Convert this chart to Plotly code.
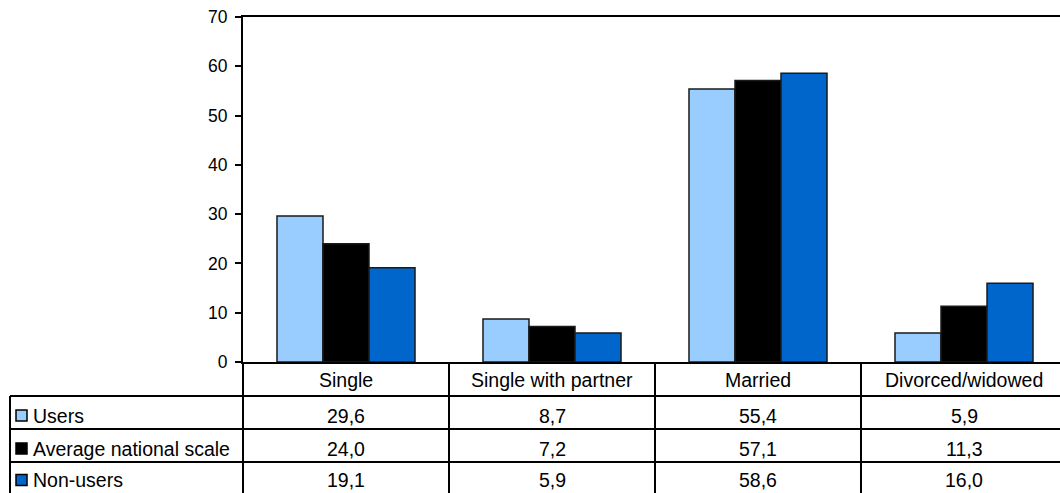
import plotly.graph_objects as go

# Marital status by group (%)
categories = ["Single", "Single with partner", "Married", "Divorced/widowed"]
series_names = ["Users", "Average national scale", "Non-users"]
users = [29.6, 8.7, 55.4, 5.9]
average_national = [24.0, 7.2, 57.1, 11.3]
non_users = [19.1, 5.9, 58.6, 16.0]
y_ticks = [0, 10, 20, 30, 40, 50, 60, 70]

series_values = [users, average_national, non_users]
series_colors = ["#99CCFF", "#000000", "#0066CC"]

W, H = 1060, 493
M_L, M_R, M_T, M_B = 243, 0, 17, 131
PW, PH = W - M_L - M_R, H - M_T - M_B
FONT = "Liberation Sans, Arial, sans-serif"


def px_x(px):
    return (px - M_L) / PW


def px_y(py):
    return (H - M_B - py) / PH


fig = go.Figure()
for name, vals, col in zip(series_names, series_values, series_colors):
    fig.add_trace(go.Bar(
        x=list(range(len(categories))), y=vals, name=name,
        marker=dict(color=col, line=dict(color="#1a1a1a", width=1.5)),
        showlegend=False,
    ))

shapes = []
annotations = []
LINE = dict(color="black", width=2)

# data table rows (header row, then one row per series)
row_edges = [362, 396, 429, 462, 495]
left_edge = 10

# horizontal rules of the table
for ry in row_edges[1:4]:
    shapes.append(dict(type="line", xref="paper", yref="paper",
                       x0=px_x(left_edge), x1=1, y0=px_y(ry), y1=px_y(ry), line=LINE))
# vertical rules: outer left column and the column boundaries
shapes.append(dict(type="line", xref="paper", yref="paper",
                   x0=px_x(left_edge), x1=px_x(left_edge),
                   y0=px_y(row_edges[1]), y1=px_y(row_edges[-1] + 5), line=LINE))
shapes.append(dict(type="line", xref="paper", yref="paper",
                   x0=0, x1=0, y0=0, y1=px_y(row_edges[-1] + 5), line=LINE))
for i in range(len(categories) - 1):
    shapes.append(dict(type="line", xref="x", yref="paper",
                       x0=i + 0.5, x1=i + 0.5, y0=0, y1=px_y(row_edges[-1] + 5), line=LINE))

TXT = dict(family=FONT, size=19.5, color="black")
# header row: category names
for i, c in enumerate(categories):
    annotations.append(dict(x=i, y=px_y((row_edges[0] + row_edges[1]) / 2 + 1),
                            xref="x", yref="paper", text=c, showarrow=False,
                            xanchor="center", yanchor="middle", font=TXT))

# series rows: legend key, name, and values
for r, (name, vals, col) in enumerate(zip(series_names, series_values, series_colors)):
    top, bot = row_edges[r + 1], row_edges[r + 2]
    cy = (top + bot) / 2 + 3 - (1.5 if r == 2 else 0)
    shapes.append(dict(type="rect", xref="paper", yref="paper",
                       x0=px_x(16), x1=px_x(27), y0=px_y(cy - 5.5), y1=px_y(cy + 5.5),
                       fillcolor=col, line=dict(color="black", width=1.5)))
    annotations.append(dict(x=px_x(31), y=px_y(cy), xref="paper", yref="paper",
                            text=name, showarrow=False, xanchor="left",
                            yanchor="middle", font=TXT))
    for i, v in enumerate(vals):
        annotations.append(dict(x=i, y=px_y(cy), xref="x", yref="paper",
                                text=f"{v:.1f}".replace(".", ","), showarrow=False,
                                xanchor="center", yanchor="middle", font=TXT))

fig.update_layout(
    width=W, height=H,
    margin=dict(l=M_L, r=M_R, t=M_T, b=M_B, pad=0),
    paper_bgcolor="white", plot_bgcolor="white",
    barmode="group", bargap=0.33, bargroupgap=0,
    font=dict(family=FONT, size=17, color="black"),
    shapes=shapes, annotations=annotations,
    xaxis=dict(range=[-0.5, 3.466], showticklabels=False, ticks="",
               showgrid=False, zeroline=False, showline=True, linecolor="black",
               linewidth=2, mirror=True, fixedrange=True),
    yaxis=dict(range=[0, 70], tickvals=y_ticks, ticks="outside", ticklen=6,
               tickwidth=2, tickcolor="black", showgrid=False, zeroline=False,
               showline=True, linecolor="black", linewidth=2, ticklabelstandoff=4,
               tickfont=dict(family=FONT, size=17.5, color="black"), fixedrange=True),
)

fig.write_html("out.html")
